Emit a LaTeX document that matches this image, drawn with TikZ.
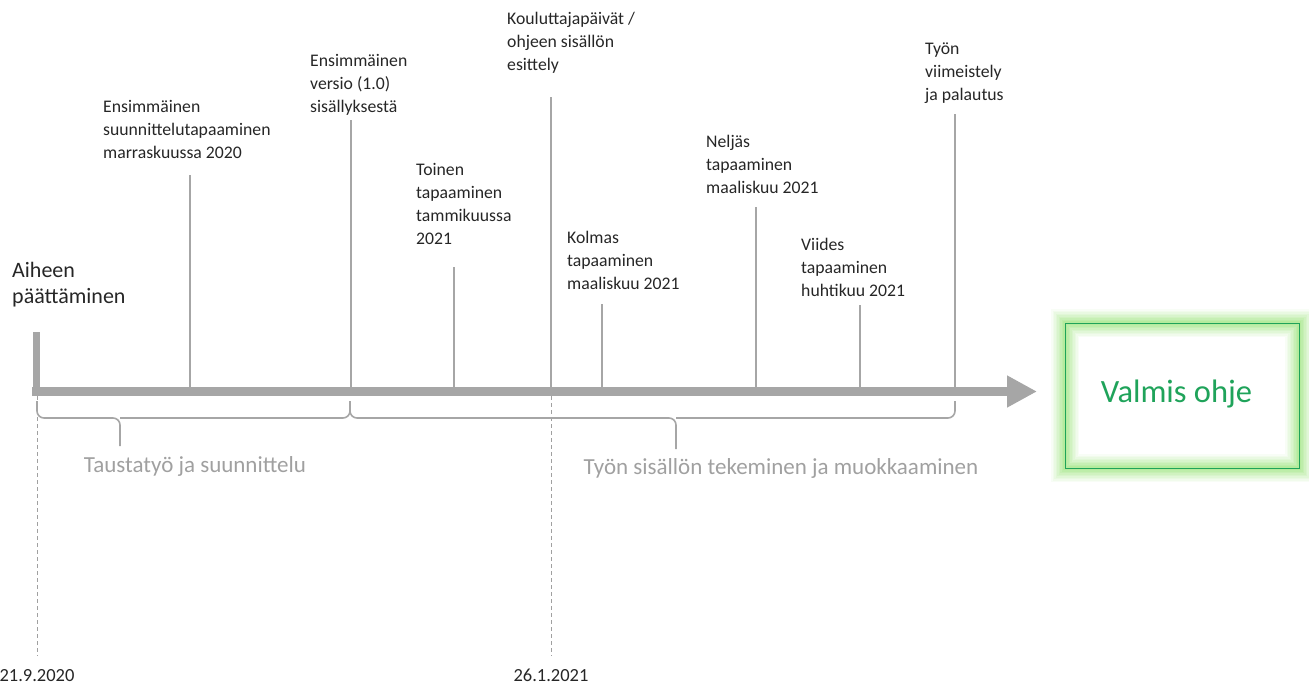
\documentclass[tikz,border=0pt]{standalone}
\usepackage{fontspec}
\setmainfont{Carlito}
\usetikzlibrary{arrows.meta}
\definecolor{axisgray}{HTML}{A6A6A6}
\definecolor{txt}{HTML}{262626}
\definecolor{lbl}{HTML}{A0A0A0}
\definecolor{okgreen}{HTML}{1FA35A}
\definecolor{glowc}{HTML}{8EE06A}
\begin{document}
\begin{tikzpicture}[x=1pt,y=-1pt,
  ev/.style={anchor=base west, align=left, inner sep=0pt, text=txt,
    font=\fontsize{17.7}{22.7}\selectfont},
  ticks/.style={draw=axisgray, line width=1.1pt},
  dashline/.style={draw=lbl, line width=0.8pt, dash pattern=on 4pt off 3pt},
  datelbl/.style={anchor=base, inner sep=0pt, text=txt, font=\fontsize{18.5}{22}\selectfont},
  phase/.style={anchor=base, inner sep=0pt, text=lbl, font=\fontsize{23}{27}\selectfont},
  bracket/.style={draw=axisgray, line width=1.6pt, rounded corners=7pt},
  axisline/.style={draw=axisgray, line width=9pt, -{Triangle[length=30pt,width=30pt]}}
]
\useasboundingbox (0,0) rectangle (1309,686);

% start label
\node[anchor=base west, align=left, inner sep=0pt, text=txt,
  font=\fontsize{22}{26}\selectfont] (start) at (12,303) {Aiheen\\päättäminen};

% event labels (anchor = baseline of last line)
\node[ev] (e1) at (103,158) {Ensimmäinen\\suunnittelutapaaminen\\marraskuussa 2020};
\node[ev] (e2) at (310,112) {Ensimmäinen\\versio (1.0)\\sisällyksestä};
\node[ev] (e3) at (416,244) {Toinen\\tapaaminen\\tammikuussa\\2021};
\node[ev] (e4) at (507,70) {Kouluttajapäivät /\\ohjeen sisällön\\esittely};
\node[ev] (e5) at (567,289) {Kolmas\\tapaaminen\\maaliskuu 2021};
\node[ev] (e6) at (706,193) {Neljäs\\tapaaminen\\maaliskuu 2021};
\node[ev] (e7) at (801,296) {Viides\\tapaaminen\\huhtikuu 2021};
\node[ev] (e8) at (925,100) {Työn\\viimeistely\\ja palautus};

% tick coordinates
\coordinate (t1a) at (190,175); \coordinate (t1b) at (190,387);
\coordinate (t2a) at (351,120); \coordinate (t2b) at (351,387);
\coordinate (t3a) at (454,267); \coordinate (t3b) at (454,387);
\coordinate (t4a) at (551,97);  \coordinate (t4b) at (551,387);
\coordinate (t5a) at (602,304); \coordinate (t5b) at (602,387);
\coordinate (t6a) at (756,207); \coordinate (t6b) at (756,387);
\coordinate (t7a) at (860,305); \coordinate (t7b) at (860,387);
\coordinate (t8a) at (955,114); \coordinate (t8b) at (955,387);
\foreach \i in {1,...,8} { \draw[ticks] (t\i a) -- (t\i b); }

% dashed date lines
\node[datelbl] (d1) at (37,681) {21.9.2020};
\node[datelbl] (d2) at (551,681) {26.1.2021};
\coordinate (d1top) at (37,396);
\coordinate (d2top) at (551,396);
\draw[dashline] (d1top) -- (d1top |- 0,656);
\draw[dashline] (d2top) -- (d2top |- 0,656);

% axis
\coordinate (stubtop) at (36.5,332);
\coordinate (stubbot) at (36.5,396);
\coordinate (ax0) at (32,391.5);
\coordinate (axend) at (1037,391.5);
\draw[draw=axisgray, line width=7pt] (stubtop) -- (stubbot);
\draw[axisline] (ax0) -- (axend);

% brackets
\draw[bracket] (37,401) -- (37,418) -- (120,418) -- (120,446);
\draw[bracket] (120,418) -- (350,418) -- (350,401);
\draw[bracket] (350,401) -- (350,418) -- (676,418) -- (676,449);
\draw[bracket] (676,418) -- (955,418) -- (955,401);
\node[phase] (p1) at (195,472) {Taustatyö ja suunnittelu};
\node[phase] (p2) at (781,474) {Työn sisällön tekeminen ja muokkaaminen};

% final box with soft glow
\foreach \w/\o in {28/0.06, 25/0.07, 22/0.08, 19/0.09, 16/0.1, 13/0.12, 10/0.14, 7/0.16, 4/0.18} {
  \draw[glowc, line width=\w pt, opacity=\o] (1065,323) rectangle (1299,468);
}
\node[draw=okgreen, line width=1pt, minimum width=234pt, minimum height=145pt,
  inner sep=0pt] (goal) at (1182,395.5) {};
\node[anchor=base, inner sep=0pt, text=okgreen, font=\fontsize{32.5}{38}\selectfont]
  (goaltext) at (1176.5,402) {Valmis ohje};
\end{tikzpicture}
\end{document}
